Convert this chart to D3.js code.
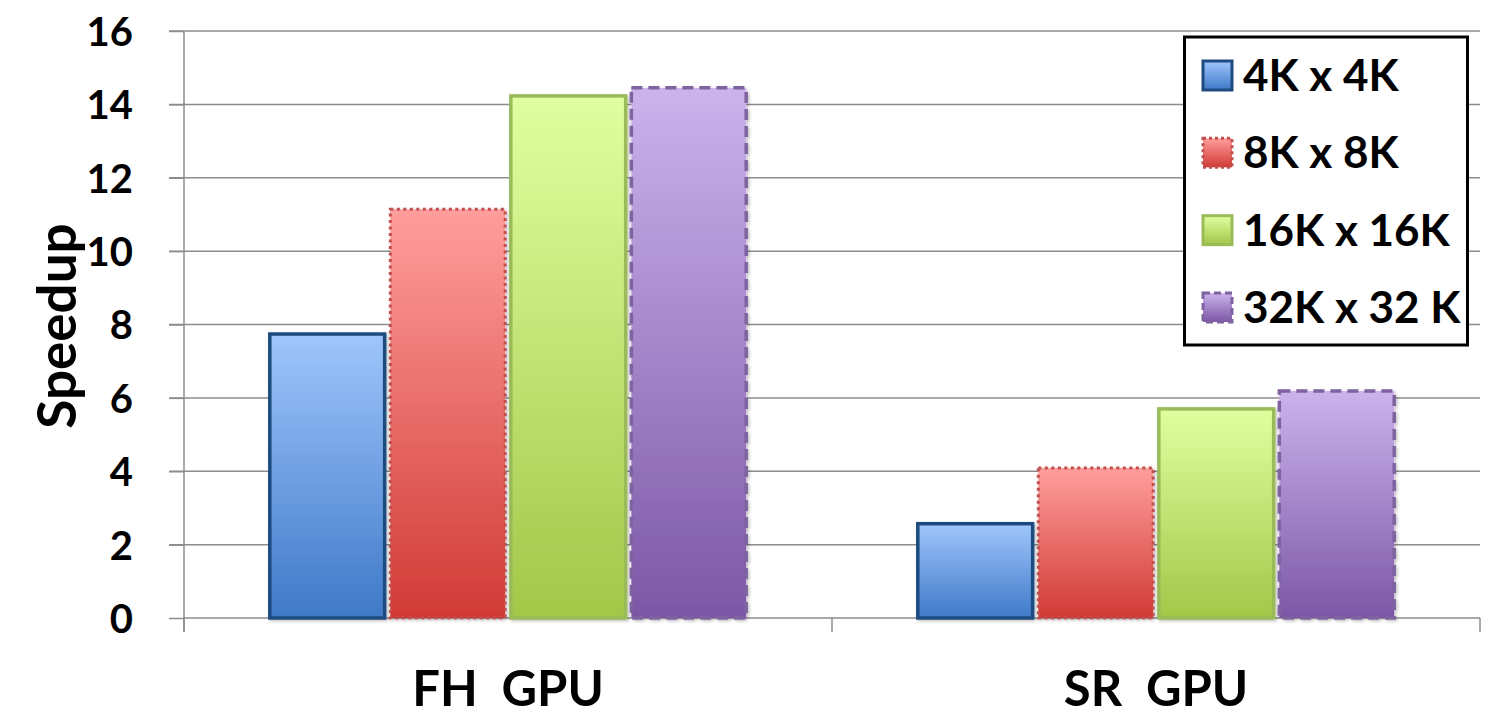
<!DOCTYPE html>
<html>
<head>
<meta charset="utf-8">
<script src="https://cdn.jsdelivr.net/npm/d3@7"></script>
<style>
  html, body { margin: 0; padding: 0; background: #fff; }
  svg { display: block; }
  text { font-family: Lato, "Open Sans", "Liberation Sans", sans-serif; font-weight: 700; fill: #000; }
</style>
</head>
<body>
<svg id="chart" width="1501" height="718"></svg>
<script>
const categories = ["FH  GPU", "SR  GPU"];
const seriesNames = ["4K x 4K", "8K x 8K", "16K x 16K", "32K x 32 K"];
const values4K = [7.74, 2.57];
const values8K = [11.14, 4.09];
const values16K = [14.23, 5.70];
const values32K = [14.45, 6.19];
const yTicks = [0, 2, 4, 6, 8, 10, 12, 14, 16];

const seriesValues = [values4K, values8K, values16K, values32K];
const styles = [
  { top: "#9fc6fc", bottom: "#3f79c8", stroke: "#1f4b80", width: 3.5, dash: null },
  { top: "#ff9e9c", bottom: "#d13a35", stroke: "#c0504d", width: 3, dash: "3,3.5" },
  { top: "#dfffa0", bottom: "#a2c748", stroke: "#9bbb59", width: 3.5, dash: null },
  { top: "#cbb3ec", bottom: "#7c57a6", stroke: "#7f63a1", width: 3.5, dash: "11,6" }
];

const svg = d3.select("#chart");
const plot = { left: 184, right: 1480, top: 31, bottom: 618 };

const x = d3.scaleBand().domain(categories).range([plot.left, plot.right]).paddingInner(0).paddingOuter(0);
const xs = d3.scaleBand().domain(d3.range(seriesNames.length)).range([0, x.bandwidth()])
  .paddingInner(0.047).paddingOuter(0.712);
const y = d3.scaleLinear().domain([0, 16]).range([plot.bottom, plot.top]);

// gradients
const defs = svg.append("defs");
styles.forEach((s, i) => {
  const g = defs.append("linearGradient").attr("id", "grad" + i)
    .attr("x1", 0).attr("y1", 0).attr("x2", 0).attr("y2", 1);
  g.append("stop").attr("offset", "0%").attr("stop-color", s.top);
  g.append("stop").attr("offset", "100%").attr("stop-color", s.bottom);
});
const filt = defs.append("filter").attr("id", "shadow").attr("x", "-10%").attr("y", "-10%").attr("width", "130%").attr("height", "130%");
filt.append("feDropShadow").attr("dx", 1.5).attr("dy", 1.5).attr("stdDeviation", 1.5).attr("flood-color", "#000").attr("flood-opacity", 0.25);

// gridlines
svg.append("g").selectAll("line").data(yTicks.filter(d => d > 0)).join("line")
  .attr("x1", plot.left - 15).attr("x2", plot.right)
  .attr("y1", d => y(d)).attr("y2", d => y(d))
  .attr("stroke", "#8c8c8c").attr("stroke-width", 1.5);

// y axis
const yAxis = svg.append("g").attr("transform", `translate(${plot.left},0)`)
  .call(d3.axisLeft(y).tickValues(yTicks).tickSize(15).tickPadding(36));
yAxis.select(".domain").attr("stroke", "#8c8c8c").attr("stroke-width", 1.5)
  .attr("d", `M0,${plot.top}V${plot.bottom + 14}`);
yAxis.selectAll(".tick line").attr("stroke", "#8c8c8c").attr("stroke-width", 1.5);
yAxis.selectAll(".tick text").style("font-size", "40px").attr("dy", "0.36em");

// x axis
const xAxis = svg.append("g").attr("transform", `translate(0,${plot.bottom})`);
xAxis.append("line").attr("x1", plot.left).attr("x2", plot.right).attr("y1", 0).attr("y2", 0)
  .attr("stroke", "#8c8c8c").attr("stroke-width", 1.5);
const bounds = categories.map(c => x(c)).concat([x(categories[categories.length - 1]) + x.bandwidth()]);
xAxis.selectAll("line.sep").data(bounds).join("line").attr("class", "sep")
  .attr("x1", d => d).attr("x2", d => d).attr("y1", 0).attr("y2", 14)
  .attr("stroke", "#8c8c8c").attr("stroke-width", 1.5);
xAxis.selectAll("text").data(categories).join("text")
  .attr("x", d => x(d) + x.bandwidth() / 2).attr("y", 88)
  .attr("text-anchor", "middle").style("font-size", "49px").style("white-space", "pre")
  .text(d => d);

// y label
svg.append("text").attr("transform", `translate(76,326) rotate(-90)`)
  .attr("text-anchor", "middle").style("font-size", "53px").text("Speedup");

// bars
seriesValues.forEach((vals, si) => {
  const s = styles[si];
  svg.append("g").selectAll("rect").data(categories.map((c, ci) => ({ c, v: vals[ci] }))).join("rect")
    .attr("x", d => x(d.c) + xs(si))
    .attr("width", xs.bandwidth())
    .attr("y", d => y(d.v))
    .attr("height", d => y(0) - y(d.v))
    .attr("fill", `url(#grad${si})`)
    .attr("stroke", s.stroke).attr("stroke-width", s.width)
    .attr("stroke-dasharray", s.dash)
    .attr("filter", "url(#shadow)");
});

// legend
const lg = svg.append("g");
lg.append("rect").attr("x", 1184.5).attr("y", 37).attr("width", 283).attr("height", 308)
  .attr("fill", "#fff").attr("stroke", "#000").attr("stroke-width", 3);
const rowY = d3.scalePoint().domain(d3.range(seriesNames.length)).range([75, 307]);
seriesNames.forEach((name, i) => {
  const s = styles[i];
  const cy = rowY(i);
  lg.append("rect").attr("x", 1203).attr("y", cy - 14).attr("width", 29).attr("height", 29)
    .attr("fill", `url(#grad${i})`).attr("stroke", s.stroke).attr("stroke-width", 3)
    .attr("stroke-dasharray", s.dash ? (i === 1 ? "3,3" : "7,4") : null);
  lg.append("text").attr("x", 1243).attr("y", cy).attr("dy", "0.36em")
    .style("font-size", "44px").text(name);
});
</script>
</body>
</html>
